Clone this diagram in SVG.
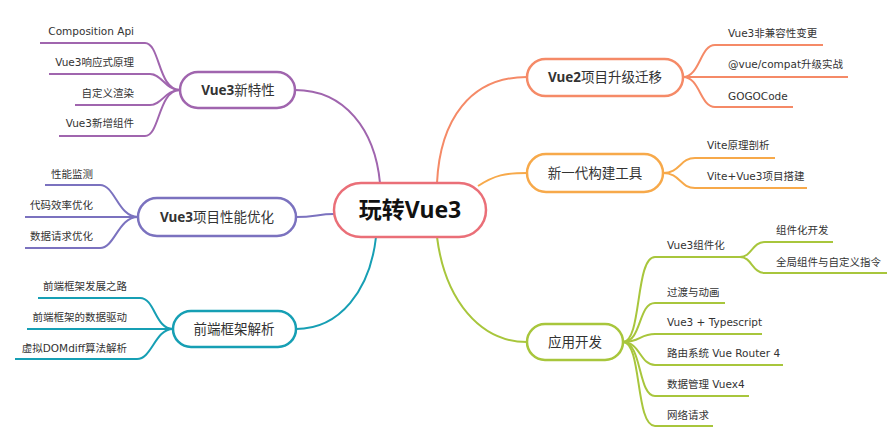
<svg xmlns="http://www.w3.org/2000/svg" width="891" height="429" viewBox="0 0 891 429">
<style>
text{font-family:"Noto Sans","Noto Sans CJK SC",sans-serif;fill:#333}
.c{font-size:10.5px;font-family:"DejaVu Sans","Noto Sans CJK SC",sans-serif}
.e{text-anchor:end}
.n{font-size:13.5px;text-anchor:middle}
.b{font-weight:bold}
.node rect{fill:#fff;stroke-width:2.5}
.lk path{fill:none;stroke-width:2}
.main{stroke-width:2.6}
</style>
<rect width="891" height="429" fill="#fff"/>
<g id="connectors" class="lk">
  <g stroke="#a065ae">
    <path class="main" d="M295,90 C345,90 375,130 380,183"/>
    <path d="M40,43 H145 C160,43 158,90 180,90"/>
    <path d="M49,74 H150 C162,74 165,90 180,90"/>
    <path d="M75,105 H150 C162,105 165,90 180,90"/>
    <path d="M59,136 H145 C160,136 158,90 180,90"/>
  </g>
  <g stroke="#7b72bf">
    <path class="main" d="M296,217 C315,217 318,214 334,214"/>
    <path d="M45,185 H100 C115,185 118,217 138,217"/>
    <path d="M25,217 H138"/>
    <path d="M25,248 H100 C115,248 118,217 138,217"/>
  </g>
  <g stroke="#169fb4">
    <path class="main" d="M296,329 C340,329 370,290 376,237"/>
    <path d="M38,298 H140 C155,298 155,329 173,329"/>
    <path d="M27,329 H173"/>
    <path d="M15,359 H137 C152,359 155,329 173,329"/>
  </g>
  <g stroke="#f58a67">
    <path class="main" d="M437,183 C440,120 470,77 527,77"/>
    <path d="M683,77 C700,77 700,45 715,45 H823"/>
    <path d="M683,77 H848"/>
    <path d="M683,77 C700,77 700,107 715,107 H793"/>
  </g>
  <g stroke="#f7a94a">
    <path class="main" d="M478,186 C495,175 505,173 527,173"/>
    <path d="M663,173 C680,173 680,158 695,158 H775"/>
    <path d="M663,173 C680,173 680,188 695,188 H807"/>
  </g>
  <g stroke="#a8c63c">
    <path class="main" d="M437,237 C445,300 480,342 527,342"/>
    <path d="M623,342 C642,342 635,257 655,257 H740"/>
    <path d="M740,257 C752,257 752,242 765,242 H833"/>
    <path d="M740,257 C752,257 752,273 765,273 H887"/>
    <path d="M623,342 C642,342 638,303 655,303 H725"/>
    <path d="M623,342 C640,342 640,334 655,334 H762"/>
    <path d="M623,342 C640,342 640,365 655,365 H783"/>
    <path d="M623,342 C642,342 638,396 655,396 H749"/>
    <path d="M623,342 C642,342 635,426 655,426 H713"/>
  </g>
</g>
<g id="root" class="node">
  <rect x="334" y="183" width="152" height="54" rx="27" stroke="#ea6f78"/>
  <text x="410" y="218" class="n b" style="font-size:23px;fill:#111">玩转Vue3</text>
</g>
<g id="vue3-new" class="node">
  <rect x="180" y="72" width="115" height="36" rx="18" stroke="#a065ae"/>
  <text x="238" y="95" class="n"><tspan class="b">Vue3</tspan>新特性</text>
</g>
<g id="vue3-perf" class="node">
  <rect x="138" y="198" width="158" height="38" rx="19" stroke="#7b72bf"/>
  <text x="217" y="222" class="n"><tspan class="b">Vue3</tspan>项目性能优化</text>
</g>
<g id="fe-framework" class="node">
  <rect x="173" y="311" width="123" height="36" rx="18" stroke="#169fb4"/>
  <text x="234" y="334" class="n">前端框架解析</text>
</g>
<g id="vue2-migrate" class="node">
  <rect x="527" y="59" width="156" height="37" rx="18.5" stroke="#f58a67"/>
  <text x="605" y="82" class="n"><tspan class="b">Vue2</tspan>项目升级迁移</text>
</g>
<g id="build-tool" class="node">
  <rect x="527" y="154" width="136" height="38" rx="19" stroke="#f7a94a"/>
  <text x="595" y="178" class="n">新一代构建工具</text>
</g>
<g id="app-dev" class="node">
  <rect x="527" y="324" width="96" height="36" rx="18" stroke="#a8c63c"/>
  <text x="575" y="347" class="n">应用开发</text>
</g>
<g id="leaves">
  <text x="134" y="35" class="c e">Composition Api</text>
  <text x="134" y="66" class="c e">Vue3响应式原理</text>
  <text x="134" y="97" class="c e">自定义渲染</text>
  <text x="134" y="127" class="c e">Vue3新增组件</text>
  <text x="93" y="178" class="c e">性能监测</text>
  <text x="93" y="209" class="c e">代码效率优化</text>
  <text x="93" y="240" class="c e">数据请求优化</text>
  <text x="127" y="290" class="c e">前端框架发展之路</text>
  <text x="127" y="321" class="c e">前端框架的数据驱动</text>
  <text x="127" y="352" class="c e">虚拟DOMdiff算法解析</text>
  <text x="728" y="37" class="c">Vue3非兼容性变更</text>
  <text x="728" y="68" class="c">@vue/compat升级实战</text>
  <text x="728" y="100" class="c">GOGOCode</text>
  <text x="707" y="149" class="c">Vite原理剖析</text>
  <text x="707" y="180" class="c">Vite+Vue3项目搭建</text>
  <text x="667" y="249" class="c">Vue3组件化</text>
  <text x="776" y="234" class="c">组件化开发</text>
  <text x="776" y="266" class="c">全局组件与自定义指令</text>
  <text x="667" y="296" class="c">过渡与动画</text>
  <text x="667" y="326" class="c">Vue3 + Typescript</text>
  <text x="667" y="357" class="c">路由系统 Vue Router 4</text>
  <text x="667" y="388" class="c">数据管理 Vuex4</text>
  <text x="667" y="419" class="c">网络请求</text>
</g>
</svg>
